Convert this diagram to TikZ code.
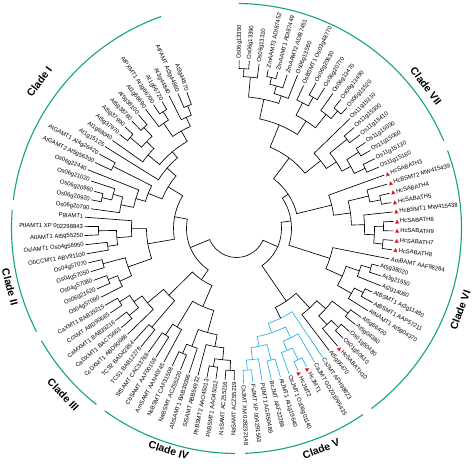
\documentclass[tikz,border=0pt]{standalone}
\usepackage{fontspec}
\setmainfont{Liberation Sans}
\newfontfamily\dejavu{DejaVu Sans}
\definecolor{cladegreen}{RGB}{22,166,108}
\definecolor{jmtcyan}{RGB}{40,172,222}
\definecolor{trired}{RGB}{222,24,34}
\tikzset{
  br/.style={line width=0.65pt, black, line join=miter},
  lab/.style={font=\fontsize{5.9}{6.8}\selectfont, inner sep=0.4pt},
  cladearc/.style={cladegreen, line width=1.1pt},
  cladelab/.style={font=\fontsize{10.5}{12}\selectfont\bfseries, inner sep=0pt}
}
\newcommand\tri{{\color{trired}\dejavu\fontsize{5.5}{6}\selectfont ▲}\hspace{1pt}}
% leaf: name, index, tip radius, text
\newcommand\Lf[4]{%
  \pgfmathsetmacro\tkA{110+3.46*#2}%
  \expandafter\let\csname tkP#1\endcsname\tkA
  \expandafter\def\csname tkR#1\endcsname{#3}%
  \pgfmathsetmacro\tkM{mod(\tkA,360)}%
  \pgfmathsetmacro\tkL{#3+1.0}%
  \ifdim\tkM pt>90pt
    \ifdim\tkM pt<270pt
      \pgfmathsetmacro\tkB{\tkA-180}%
      \node[lab,anchor=east,rotate=\tkB] (#1) at (\tkA:\tkL pt) {#4};
    \else
      \node[lab,anchor=west,rotate=\tkA] (#1) at (\tkA:\tkL pt) {#4};
    \fi
  \else
    \node[lab,anchor=west,rotate=\tkA] (#1) at (\tkA:\tkL pt) {#4};
  \fi}
% internal node: [style] name, radius, child1, child2
\newcommand\Nd[5][]{%
  \edef\tkA{\csname tkP#4\endcsname}%
  \edef\tkB{\csname tkP#5\endcsname}%
  \pgfmathsetmacro\tkC{(\tkA+\tkB)/2}%
  \expandafter\let\csname tkP#2\endcsname\tkC
  \expandafter\def\csname tkR#2\endcsname{#3}%
  \edef\tkRa{\csname tkR#4\endcsname}%
  \edef\tkRb{\csname tkR#5\endcsname}%
  \coordinate (#2) at (\tkC:#3pt);
  \draw[br,#1] (\tkA:\tkRa pt) -- (\tkA:#3pt) arc[start angle=\tkA, end angle=\tkB, radius=#3pt] -- (\tkB:\tkRb pt);
}
\newcommand\CArc[3]{%
  \pgfmathsetmacro\tkA{110+3.46*#2-0.4}%
  \pgfmathsetmacro\tkB{110+3.46*#3+0.4}%
  \draw[cladearc] (\tkA:225pt) arc[start angle=\tkA, end angle=\tkB, radius=225pt] coordinate (#1);}
\begin{document}
\begin{tikzpicture}
\useasboundingbox (-236.5pt,-237.5pt) rectangle (237.5pt,228.5pt);
% ---------- leaves ----------
\Lf{l0}{0}{145}{At3g44870}
\Lf{l1}{1}{147}{AtFAMT At3g44860}
\Lf{l2}{2}{149}{At3g44840}
\Lf{l3}{3}{147}{At1g66720}
\Lf{l4}{4}{149}{AtPXMT1 At1g66700}
\Lf{l5}{5}{150}{At1g66690}
\Lf{l6}{6}{150}{At5g38100}
\Lf{l7}{7}{150}{At5g38780}
\Lf{l8}{8}{151}{At5g37990}
\Lf{l9}{9}{150}{At5g37970}
\Lf{l10}{10}{152}{At1g68040}
\Lf{l11}{11}{155}{At1g15125}
\Lf{l12}{12}{156}{AtGAMT1 At4g26420}
\Lf{l13}{13}{156}{AtGAMT2 At5g56300}
\Lf{l14}{14}{160}{Os06g22440}
\Lf{l15}{15}{153}{Os06g21020}
\Lf{l16}{16}{147}{Os06g20960}
\Lf{l17}{17}{148}{Os06g20920}
\Lf{l18}{18}{147}{Os06g20790}
\Lf{l19}{19}{152}{PgIAMT1}
\Lf{l20}{20}{152}{PtIAMT1 XP 002298843}
\Lf{l21}{21}{152}{AtIAMT1 At5g55250}
\Lf{l22}{22}{152}{OsIAMT1 Os04g56950}
\Lf{l23}{23}{152}{ObCCMT1 ABV91100}
\Lf{l24}{24}{152}{Os04g57070}
\Lf{l25}{25}{152}{Os04g57050}
\Lf{l26}{26}{152}{Os04g57080}
\Lf{l27}{27}{152}{Os06g21620}
\Lf{l28}{28}{152}{Os04g57090}
\Lf{l29}{29}{152}{CaXMT1 BAB39215}
\Lf{l30}{30}{152}{CcXMT ABD90685}
\Lf{l31}{31}{152}{CaMXMT1 BAB39216}
\Lf{l32}{32}{152}{CaDXMT1 BAC75663}
\Lf{l33}{33}{152}{CcDXMT1 ABD90686}
\Lf{l34}{34}{152}{TCS2 BAD42854}
\Lf{l35}{35}{152}{TCS1 BAB12278}
\Lf{l36}{36}{152}{SfSAMT CAC33768}
\Lf{l37}{37}{152}{CbSAMT AAF00108}
\Lf{l38}{38}{152}{AmSAMT AAN40745}
\Lf{l39}{39}{152}{NsBSMT CAF31508}
\Lf{l40}{40}{152}{NaBSMT ACZ55220}
\Lf{l41}{41}{152}{AbSAMT1 BAB39396}
\Lf{l42}{42}{152}{SlSAMT ABB54932}
\Lf{l43}{43}{152}{PhBSMT2 AAO45013}
\Lf{l44}{44}{152}{PhBSMT1 AAO45012}
\Lf{l45}{45}{152}{NsSAMT ACZ55216}
\Lf{l46}{46}{152}{NaSAMT ACZ55219}
\Lf{l47}{47}{155}{CsJMT XM 028232148}
\Lf{l48}{48}{155}{FvJMT XP 004291563}
\Lf{l49}{49}{155}{PtJMT1 AGR50489}
\Lf{l50}{50}{155}{BcJMT AAF22289}
\Lf{l51}{51}{155}{AtJMT1 At1g19640}
\Lf{l52}{52}{155}{OsJMT1 Os06g01140}
\Lf{l53}{53}{155}{\tri HcJMT2}
\Lf{l54}{54}{155}{\tri HcJMT1}
\Lf{l55}{55}{155}{CaJMT GDZ01095435}
\Lf{l56}{56}{155}{CsJMT AFH98823}
\Lf{l57}{57}{153}{At5g66470}
\Lf{l58}{58}{155}{\tri HcSABATH10}
\Lf{l59}{59}{153}{Os01g50610}
\Lf{l60}{60}{153}{Os01g50480}
\Lf{l61}{61}{153}{At5g04380}
\Lf{l62}{62}{153}{At5g66430}
\Lf{l63}{63}{155}{AtNAMT1 At5g04370}
\Lf{l64}{64}{155}{AtBSMT1 AAP57211}
\Lf{l65}{65}{150}{AtBSMT1 At3g11480}
\Lf{l66}{66}{155}{At2g14060}
\Lf{l67}{67}{152}{At3g21950}
\Lf{l68}{68}{147}{At5g38020}
\Lf{l69}{69}{156}{AmBAMT AAF98284}
\Lf{l70}{70}{157}{\tri HcSABATH8}
\Lf{l71}{71}{157}{\tri HcSABATH7}
\Lf{l72}{72}{157}{\tri HcSABATH9}
\Lf{l73}{73}{157}{\tri HcSABATH6}
\Lf{l74}{74}{157}{\tri HcBSMT1 MW415438}
\Lf{l75}{75}{157}{\tri HcSABATH5}
\Lf{l76}{76}{157}{\tri HcSABATH4}
\Lf{l77}{77}{157}{\tri HcBSMT2 MW415439}
\Lf{l78}{78}{157}{\tri HcSABATH3}
\Lf{l79}{79}{155}{Os11g15160}
\Lf{l80}{80}{155}{Os11g15130}
\Lf{l81}{81}{155}{Os11g15060}
\Lf{l82}{82}{155}{Os11g15030}
\Lf{l83}{83}{155}{Os11g15410}
\Lf{l84}{84}{155}{Os11g15300}
\Lf{l85}{85}{158}{Os11g15310}
\Lf{l86}{86}{164}{Os06g13520}
\Lf{l87}{87}{166}{Os06g13490}
\Lf{l88}{88}{166}{Os06g13470}
\Lf{l89}{89}{166}{Os06g20770}
\Lf{l90}{90}{166}{Os06g20630}
\Lf{l91}{91}{158}{OsBSMT1 Os03g48770}
\Lf{l92}{92}{165}{Os06g13560}
\Lf{l93}{93}{162}{ZmAAMT2 ADI87451}
\Lf{l94}{94}{162}{ZmAAMT1 ADI87449}
\Lf{l95}{95}{162}{ZmAAMT3 ADI87452}
\Lf{l96}{96}{166}{Os06g13310}
\Lf{l97}{97}{168}{Os06g13390}
\Lf{l98}{98}{168}{Os06g13350}
% ---------- clade I ----------
\Nd{c1a}{132}{l0}{l1}
\Nd{c1b}{122}{c1a}{l2}
\Nd{c1c}{138}{l3}{l4}
\Nd{c1d}{128}{c1c}{l5}
\Nd{c1e}{112}{c1b}{c1d}
\Nd{c1f}{137}{l6}{l7}
\Nd{c1g}{140}{l8}{l9}
\Nd{c1h}{125}{c1f}{c1g}
\Nd{c1i}{115}{c1h}{l10}
\Nd{c1j}{100}{c1e}{c1i}
\Nd{c1k}{92}{c1j}{l11}
\Nd{c1l}{138}{l12}{l13}
\Nd{c1m}{138}{l16}{l17}
\Nd{c1n}{128}{l15}{c1m}
\Nd{c1o}{118}{c1n}{l18}
\Nd{c1p}{105}{l14}{c1o}
\Nd{c1q}{95}{c1l}{c1p}
\Nd{cI}{80}{c1k}{c1q}
% ---------- clade II ----------
\Nd{c2a}{138}{l20}{l21}
\Nd{c2b}{130}{l22}{l23}
\Nd{c2c}{120}{c2a}{c2b}
\Nd{c2d}{105}{l19}{c2c}
\Nd{c2e}{138}{l24}{l25}
\Nd{c2f}{138}{l26}{l27}
\Nd{c2g}{128}{c2f}{l28}
\Nd{c2h}{115}{c2e}{c2g}
\Nd{cII}{90}{c2d}{c2h}
\Nd{LA}{63}{cI}{cII}
% ---------- clade III / IV ----------
\Nd{c3a}{138}{l29}{l30}
\Nd{c3b}{138}{l31}{l32}
\Nd{c3c}{126}{c3a}{c3b}
\Nd{c3d}{116}{c3c}{l33}
\Nd{c3e}{130}{l34}{l35}
\Nd{cIII}{95}{c3d}{c3e}
\Nd{c4a}{128}{l36}{l37}
\Nd{c4b}{115}{c4a}{l38}
\Nd{c4c}{136}{l39}{l40}
\Nd{c4d}{126}{c4c}{l41}
\Nd{c4e}{140}{l43}{l44}
\Nd{c4f}{142}{l45}{l46}
\Nd{c4g}{132}{c4e}{c4f}
\Nd{c4h}{120}{l42}{c4g}
\Nd{c4i}{108}{c4d}{c4h}
\Nd{cIV}{85}{c4b}{c4i}
\Nd{LB}{62}{cIII}{cIV}
\Nd{L}{50}{LA}{LB}
% ---------- clade V ----------
\Nd[jmtcyan]{c5a}{142}{l47}{l48}
\Nd[jmtcyan]{c5b}{132}{c5a}{l49}
\Nd[jmtcyan]{c5c}{136}{l50}{l51}
\Nd[jmtcyan]{c5d}{120}{c5b}{c5c}
\Nd[jmtcyan]{c5e}{145}{l53}{l54}
\Nd[jmtcyan]{c5f}{132}{l52}{c5e}
\Nd[jmtcyan]{c5g}{122}{c5f}{l55}
\Nd[jmtcyan]{c5h}{110}{c5d}{c5g}
\Nd[jmtcyan]{cV}{100}{c5h}{l56}
% ---------- clade VI ----------
\Nd{c6a}{142}{l59}{l60}
\Nd{c6b}{132}{l58}{c6a}
\Nd{c6c}{140}{l61}{l62}
\Nd{c6d}{120}{c6b}{c6c}
\Nd{c6e}{108}{l57}{c6d}
\Nd{RA}{88}{cV}{c6e}
\Nd{c6f}{142}{l64}{l65}
\Nd{c6g}{132}{l63}{c6f}
\Nd{c6h}{140}{l67}{l68}
\Nd{c6i}{130}{l66}{c6h}
\Nd{c6j}{116}{c6g}{c6i}
\Nd{RB1}{98}{c6j}{l69}
\Nd{h1}{147}{l70}{l71}
\Nd{h2}{147}{l72}{l73}
\Nd{h3}{138}{h1}{h2}
\Nd{h4}{128}{h3}{l74}
\Nd{h5}{147}{l75}{l76}
\Nd{h6}{136}{h5}{l77}
\Nd{h7}{115}{h4}{h6}
\Nd{hc}{98}{h7}{l78}
% ---------- clade VII ----------
\Nd{s1}{142}{l79}{l80}
\Nd{s2}{144}{l81}{l82}
\Nd{s3}{130}{s1}{s2}
\Nd{s4}{142}{l83}{l84}
\Nd{s5}{120}{s3}{s4}
\Nd{s6}{108}{s5}{l85}
\Nd{t1}{155}{l86}{l87}
\Nd{t2}{145}{t1}{l88}
\Nd{t3}{152}{l89}{l90}
\Nd{t4}{142}{t3}{l91}
\Nd{t5}{128}{t2}{t4}
\Nd{t6}{155}{l94}{l95}
\Nd{t7}{148}{l93}{t6}
\Nd{t8}{140}{l92}{t7}
\Nd{t9}{160}{l97}{l98}
\Nd{t10}{152}{l96}{t9}
\Nd{t11}{132}{t8}{t10}
\Nd{t12}{112}{t5}{t11}
\Nd{cVII}{88}{s6}{t12}
\Nd{RB2}{62}{hc}{cVII}
\Nd{RB}{55}{RB1}{RB2}
\Nd{R}{45}{RA}{RB}
\Nd{root}{29}{L}{R}
% ---------- clade arcs and labels ----------
\CArc{aI}{0}{18}
\CArc{aII}{19}{28}
\CArc{aIII}{29}{35}
\CArc{aIV}{36}{46}
\CArc{aV}{47}{56}
\CArc{aVI}{57}{78}
\CArc{aVII}{79}{98}
\node[cladelab, rotate=53.3] (tI) at (143.3:246pt) {Clade I};
\node[cladelab, rotate=-75.5] (tII) at (194.5:234pt) {Clade II};
\node[cladelab, rotate=-46.2] (tIII) at (223.8:240pt) {Clade III};
\node[cladelab, rotate=-17] (tIV) at (253:232pt) {Clade IV};
\node[cladelab, rotate=21] (tV) at (-69:236pt) {Clade V};
\node[cladelab, rotate=70] (tVI) at (-20:238pt) {Clade VI};
\node[cladelab, rotate=-53.1] (tVII) at (36.9:237pt) {Clade VII};
\end{tikzpicture}
\end{document}
